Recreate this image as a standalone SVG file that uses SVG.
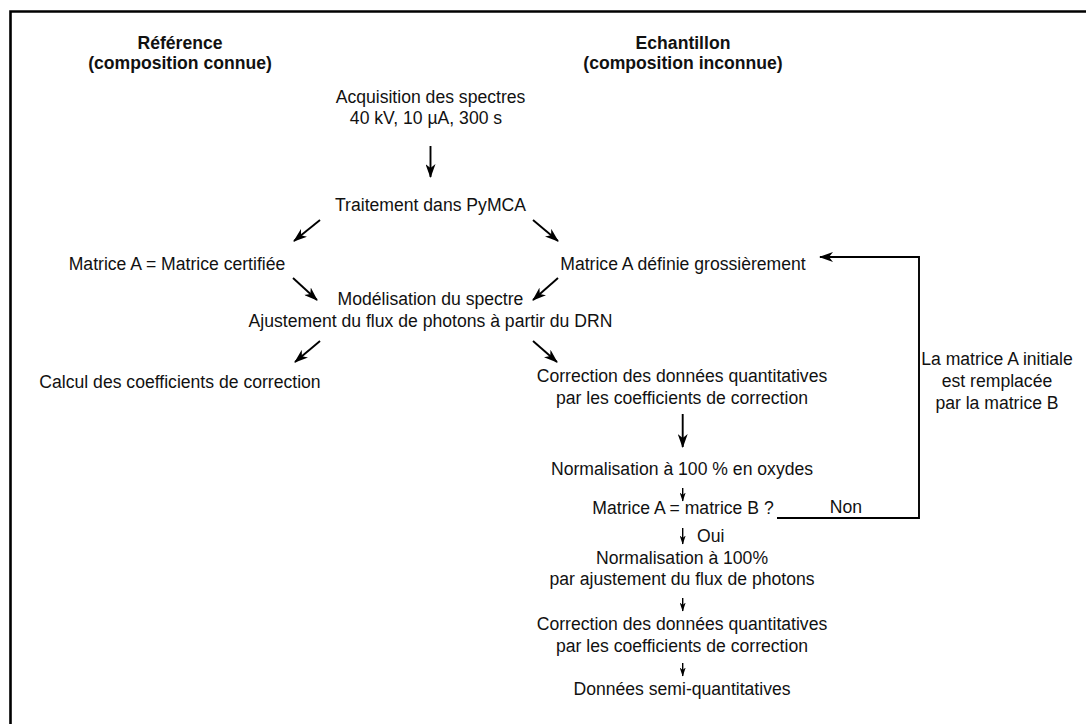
<svg xmlns="http://www.w3.org/2000/svg" width="1086" height="724" viewBox="0 0 1086 724">
<style>
.t{font-family:"Liberation Sans",Arial,sans-serif;font-size:17.6px;fill:#111;text-anchor:middle}
.b{font-weight:bold}
.c{fill:none;stroke:#000;stroke-width:1.9}
.cs{fill:none;stroke:#000;stroke-width:1.4}
</style>
<defs>
<marker id="big" viewBox="0 0 14 10" refX="13" refY="5" markerWidth="14" markerHeight="10" markerUnits="userSpaceOnUse" orient="auto">
<path d="M0,0 L14,5 L0,10 L4,5 z" fill="#000"/>
</marker>
<marker id="sm" viewBox="0 0 9 6" refX="8.5" refY="3" markerWidth="9" markerHeight="6" markerUnits="userSpaceOnUse" orient="auto">
<path d="M0,0 L9,3 L0,6 L2.5,3 z" fill="#000"/>
</marker>
</defs>
<rect width="1086" height="724" fill="#fff"/>
<path d="M10.5,740 V11.5 H1100" fill="none" stroke="#000" stroke-width="2.6"/>

<g id="hdr-ref"><text class="t b" x="180" y="49">Référence</text><text class="t b" x="180" y="69">(composition connue)</text></g>
<g id="hdr-ech"><text class="t b" x="683" y="49">Echantillon</text><text class="t b" x="683" y="69">(composition inconnue)</text></g>
<g id="acq"><text class="t" x="430.5" y="103">Acquisition des spectres</text><text class="t" x="426" y="124">40 kV, 10 µA, 300 s</text></g>
<g id="trait"><text class="t" x="430.5" y="211">Traitement dans PyMCA</text></g>
<g id="matA-cert"><text class="t" x="177" y="270">Matrice A = Matrice certifiée</text></g>
<g id="matA-def"><text class="t" x="683" y="270">Matrice A définie grossièrement</text></g>
<g id="model"><text class="t" x="430.5" y="305">Modélisation du spectre</text><text class="t" x="430.5" y="327">Ajustement du flux de photons à partir du DRN</text></g>
<g id="calcul"><text class="t" x="180" y="388">Calcul des coefficients de correction</text></g>
<g id="corr1"><text class="t" x="682" y="382">Correction des données quantitatives</text><text class="t" x="682" y="404">par les coefficients de correction</text></g>
<g id="norm1"><text class="t" x="682" y="475">Normalisation à 100 % en oxydes</text></g>
<g id="test"><text class="t" x="683" y="514">Matrice A = matrice B ?</text></g>
<g id="norm2"><text class="t" x="682" y="564">Normalisation à 100%</text><text class="t" x="682" y="585">par ajustement du flux de photons</text></g>
<g id="corr2"><text class="t" x="682" y="630">Correction des données quantitatives</text><text class="t" x="682" y="652">par les coefficients de correction</text></g>
<g id="donnees"><text class="t" x="682" y="695">Données semi-quantitatives</text></g>
<g id="loop-label"><text class="t" x="997" y="365">La matrice A initiale</text><text class="t" x="997" y="387">est remplacée</text><text class="t" x="997" y="409">par la matrice B</text></g>

<g id="connectors">
<path class="c" d="M430.5,146 V177" marker-end="url(#big)"/>
<path class="c" d="M320,220 L294,241" marker-end="url(#big)"/>
<path class="c" d="M533,220 L558,241" marker-end="url(#big)"/>
<path class="c" d="M293,278 L317,300" marker-end="url(#big)"/>
<path class="c" d="M558,278 L533,300" marker-end="url(#big)"/>
<path class="c" d="M320,341 L295,362" marker-end="url(#big)"/>
<path class="c" d="M533,341 L557,362" marker-end="url(#big)"/>
<path class="c" d="M682.7,414 V447" marker-end="url(#big)"/>
<path class="cs" d="M682.7,488 V501" marker-end="url(#sm)"/>
<path class="cs" d="M682.7,528 V544" marker-end="url(#sm)"/>
<path class="cs" d="M682.7,598 V611" marker-end="url(#sm)"/>
<path class="cs" d="M682.7,663 V676" marker-end="url(#sm)"/>
<path class="c" d="M777,518 H919 V257 H820" marker-end="url(#big)"/>
<text class="t" x="846" y="513">Non</text>
<text class="t" x="697" y="542" style="text-anchor:start">Oui</text>
</g>
</svg>
